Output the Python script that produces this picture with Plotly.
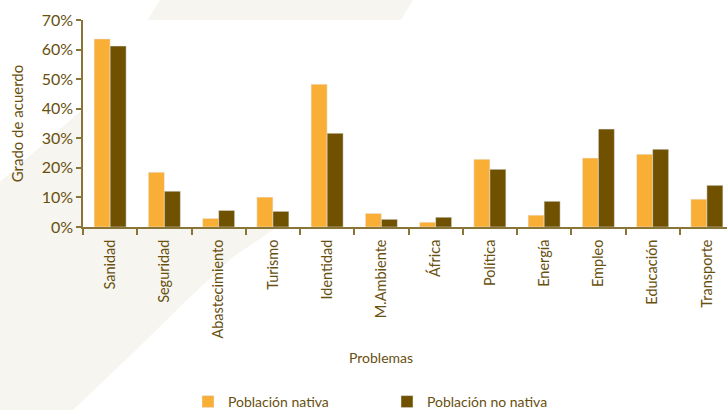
import plotly.graph_objects as go

categorias = ["Sanidad", "Seguridad", "Abastecimiento", "Turismo", "Identidad", "M.Ambiente",
              "África", "Política", "Energía", "Empleo", "Educación", "Transporte"]
nativa = [63.6, 18.5, 2.9, 10.1, 48.3, 4.6, 1.6, 22.9, 4.0, 23.3, 24.6, 9.4]
no_nativa = [61.2, 12.1, 5.6, 5.3, 31.7, 2.6, 3.3, 19.5, 8.7, 33.1, 26.3, 14.1]
y_ticks = [0, 10, 20, 30, 40, 50, 60, 70]
y_labels = ["0%", "10%", "20%", "30%", "40%", "50%", "60%", "70%"]

TXT = "#68500f"
AX = "#8a7538"
ORANGE = "#f9ae35"
BROWN = "#6f5100"
FONT = "Lato"

W, H = 727, 410
L, R, T, B = 83, 0, 20, 183
pw, ph = W - L - R, H - T - B


def px(x):
    return (x - L) / pw


def py(y):
    return (H - B - y) / ph


fig = go.Figure()
fig.add_trace(go.Bar(x=categorias, y=nativa, name="Población nativa", marker_color=ORANGE))
fig.add_trace(go.Bar(x=categorias, y=no_nativa, name="Población no nativa", marker_color=BROWN))

# decorative background swoosh
pts = [(160, 0), (413, 0), (330, 140), (273, 230), (233, 257), (187, 300), (133, 353), (73, 410),
       (0, 410), (0, 182), (82, 110), (148, 19)]
path = "M " + " L ".join(f"{px(a):.4f},{py(b):.4f}" for a, b in pts) + " Z"
shapes = [
    dict(type="path", path=path, xref="paper", yref="paper", fillcolor="#f7f5ef",
         line=dict(width=0), layer="below"),
    dict(type="rect", x0=0, x1=1, y0=0, y1=1, xref="paper", yref="paper", fillcolor="white",
         line=dict(width=0), layer="below"),
]

fig.update_layout(
    width=W, height=H,
    margin=dict(l=L, r=R, t=T, b=B, autoexpand=False),
    paper_bgcolor="white", plot_bgcolor="white",
    barmode="group", bargap=0.41, bargroupgap=0,
    font=dict(family=FONT, color=TXT, size=14),
    shapes=shapes,
    showlegend=True,
    legend=dict(orientation="h", x=px(188), y=py(402), xanchor="left", yanchor="middle",
                entrywidth=154, entrywidthmode="pixels", font=dict(size=14, color=TXT),
                bgcolor="rgba(0,0,0,0)"),
    annotations=[dict(text="Problemas", x=px(381), y=py(357), xref="paper", yref="paper",
                      showarrow=False, xanchor="center", yanchor="middle",
                      font=dict(size=14, color=TXT))],
    xaxis=dict(range=[-0.5, 11.5 - 7 / 54.25], showline=True, linecolor=AX, linewidth=1.5,
               ticks="outside", tickson="boundaries", ticklen=6, tickcolor=AX, tickwidth=1.5,
               tickangle=-90, tickfont=dict(size=14.5, color=TXT), showgrid=False,
               ticklabelstandoff=5, fixedrange=True),
    yaxis=dict(range=[0, 70], tickvals=y_ticks, ticktext=y_labels, showline=True, linecolor=AX,
               linewidth=1.5, ticks="outside", ticklen=5, tickcolor=AX, tickwidth=1.5,
               tickfont=dict(size=16, color=TXT), showgrid=False, zeroline=False,
               title=dict(text="Grado de acuerdo", font=dict(size=15, color=TXT), standoff=14)),
)

fig.write_html("out.html", config={"displayModeBar": False},
               post_script="document.body.style.margin='0';document.body.style.overflow='hidden';")
